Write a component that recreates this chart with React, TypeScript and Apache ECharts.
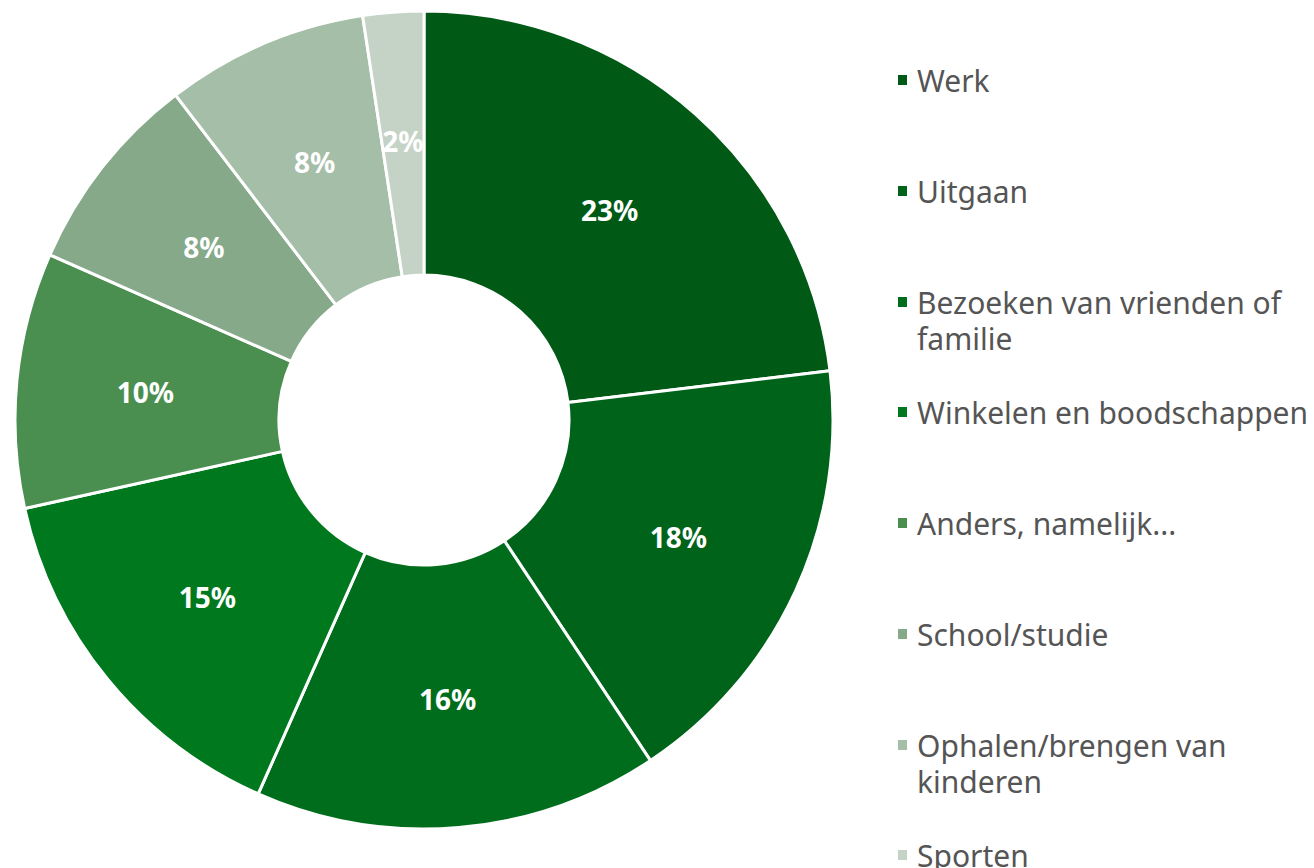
import React, { useEffect, useRef } from "react";
import * as echarts from "echarts";

const categories = [
  "Werk",
  "Uitgaan",
  "Bezoeken van vrienden of familie",
  "Winkelen en boodschappen",
  "Anders, namelijk...",
  "School/studie",
  "Ophalen/brengen van kinderen",
  "Sporten",
];
const legendLabels = [
  "Werk",
  "Uitgaan",
  "Bezoeken van vrienden of\nfamilie",
  "Winkelen en boodschappen",
  "Anders, namelijk...",
  "School/studie",
  "Ophalen/brengen van\nkinderen",
  "Sporten",
];
const values = [23.1, 17.6, 16.0, 14.9, 10.1, 8.0, 8.0, 2.4];
const colors = [
  "#005a15",
  "#00631a",
  "#006d1c",
  "#00781e",
  "#4a8f4f",
  "#86a98a",
  "#a5bea8",
  "#c4d3c6",
];

const FONT = "'Noto Sans', sans-serif";
const LINE_H = 36;

export default function App() {
  const ref = useRef<HTMLDivElement>(null);
  useEffect(() => {
    if (!ref.current) return;
    const chart = echarts.init(ref.current, undefined, { renderer: "svg" });
    const legends = categories.map((name, i) => {
      const label = legendLabels[i];
      const lines = label.split("\n").length;
      const h = lines * LINE_H;
      // square marker aligned with the first text line
      const icon =
        lines > 1
          ? `path://M0,0L0,0M0,12h11v12h-11zM0,${h}L0,${h}`
          : "rect";
      return {
        orient: "vertical",
        left: 896,
        top: Math.round(62 + i * 110.7),
        padding: 0,
        itemWidth: 11,
        itemHeight: lines > 1 ? h : 12,
        icon,
        data: [name],
        formatter: (n: string) => legendLabels[categories.indexOf(n)],
        textStyle: {
          fontFamily: FONT,
          fontSize: 30,
          color: "#555555",
          lineHeight: LINE_H,
          padding: [0, 0, 0, 4],
        },
      };
    });
    chart.setOption({
      animation: false,
      backgroundColor: "#ffffff",
      color: colors,
      legend: legends,
      series: [
        {
          type: "pie",
          center: [424, 420],
          radius: [145, 409],
          startAngle: 90,
          clockwise: true,
          avoidLabelOverlap: false,
          itemStyle: { borderColor: "#ffffff", borderWidth: 3 },
          label: {
            show: true,
            position: "inside",
            formatter: (p: any) => `${Math.round(p.value)}%`,
            color: "#ffffff",
            fontFamily: FONT,
            fontWeight: "bold",
            fontSize: 28,
          },
          labelLine: { show: false },
          emphasis: { disabled: true },
          data: categories.map((name, i) => ({ name, value: values[i] })),
        },
      ],
    });
    return () => chart.dispose();
  }, []);
  return (
    <div
      ref={ref}
      style={{ position: "fixed", left: 0, top: 0, width: 1314, height: 868 }}
    />
  );
}
